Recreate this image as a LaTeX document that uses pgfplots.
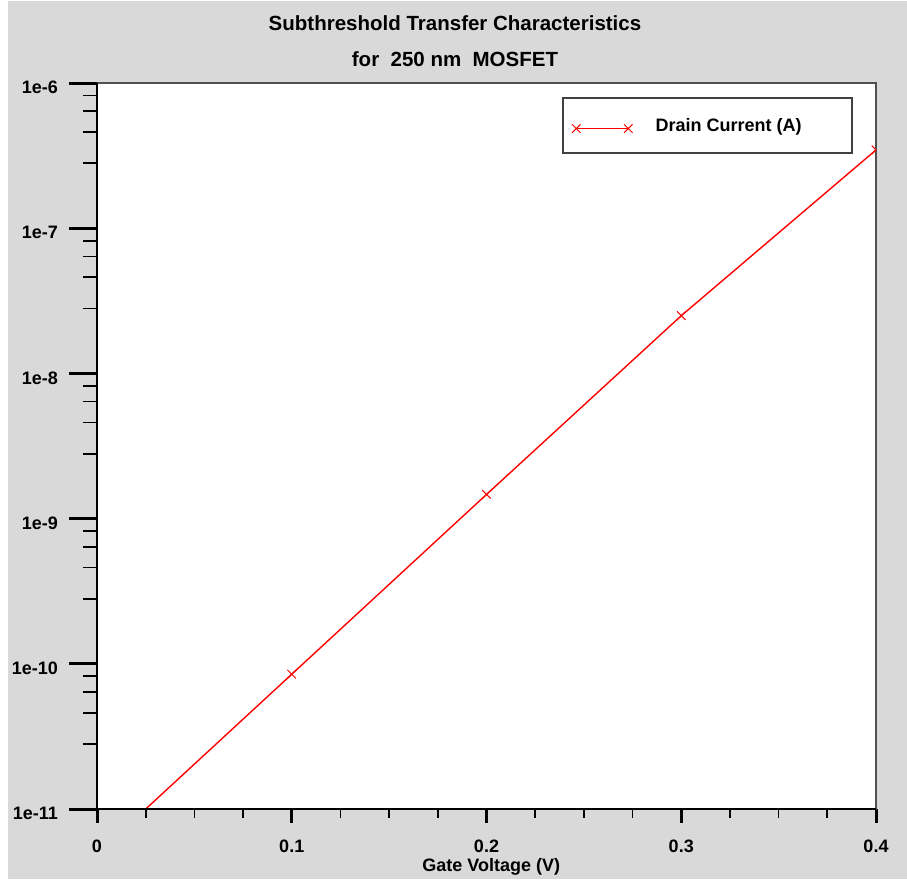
\documentclass[border=0pt]{standalone}
\usepackage{fontspec}
\setmainfont{Liberation Sans}
\usepackage{pgfplots}
\pgfplotsset{compat=1.18}
\definecolor{panel}{HTML}{D9D9D9}
\definecolor{framec}{HTML}{505050}
\definecolor{legbox}{HTML}{404040}
\definecolor{curve}{HTML}{FF0000}

\newcommand{\tickfont}{\fontsize{18}{20}\selectfont\bfseries}

\begin{document}
\begin{tikzpicture}[x=1pt,y=1pt]
\fill[white] (0,0) rectangle (907,880);
\fill[panel] (8,1) rectangle (907,879);
\useasboundingbox (0,0) rectangle (907,880);

% main axis: frame, x ticks, curve, legend
\begin{axis}[at={(97pt,71pt)}, anchor=south west, scale only axis,
  width=779pt, height=726pt,
  ymode=log, xmin=0, xmax=0.4, ymin=1e-11, ymax=1e-6,
  axis background/.style={fill=white},
  axis line style={framec, line width=2pt},
  ytick=\empty, xtick pos=bottom,
  xtick={0,0.1,0.2,0.3,0.4}, xticklabels={0,0.1,0.2,0.3,0.4},
  minor x tick num=3,
  tick align=outside, major tick length=14pt, minor tick length=9pt,
  major x tick style={black, line width=3pt},
  minor x tick style={black, line width=1.7pt},
  xticklabel style={font=\tickfont, anchor=north, inner sep=0pt, yshift=-17pt},
  xlabel={Gate Voltage (V)},
  xlabel style={font=\tickfont, at={(axis description cs:0.506,0)}, anchor=base, yshift=-62.5pt, inner sep=0pt},
  clip marker paths=true,
  legend style={at={(0.597,0.981)}, anchor=north west, draw=legbox, line width=2pt,
    fill=white, inner xsep=9pt, inner ysep=20.5pt, nodes={inner sep=0pt},
    font=\tickfont, /tikz/every odd column/.append style={column sep=23pt}},
  legend image code/.code={\draw[#1, yshift=-3pt] plot coordinates {(0pt,0pt) (52pt,0pt)};},
]
\addplot[curve, line width=1.4pt, mark=x, mark size=6pt, mark options={line width=1pt}]
  coordinates {(0,4.9e-12) (0.1,8.48e-11) (0.2,1.467e-9) (0.3,2.497e-8) (0.4,3.46e-7)};
\addlegendentry{\makebox[187pt][l]{Drain Current (A)}}
\end{axis}

% overlay axis: black left/bottom lines and y ticks
\begin{axis}[at={(97pt,71pt)}, anchor=south west, scale only axis,
  width=779pt, height=726pt,
  ymode=log, xmin=0, xmax=0.4, ymin=1e-11, ymax=1e-6,
  axis x line*=bottom, axis y line*=left,
  axis line style={black, line width=2pt},
  xtick=\empty,
  ytick={1e-11,1e-10,1e-9,1e-8,1e-7,1e-6},
  yticklabels={1e-11,1e-10,1e-9,1e-8,1e-7,1e-6},
  minor ytick={2.8e-11,4.6e-11,6.4e-11,8.2e-11,
    2.8e-10,4.6e-10,6.4e-10,8.2e-10,
    2.8e-9,4.6e-9,6.4e-9,8.2e-9,
    2.8e-8,4.6e-8,6.4e-8,8.2e-8,
    2.8e-7,4.6e-7,6.4e-7,8.2e-7},
  tick align=outside, major tick length=28pt, minor tick length=14pt,
  major y tick style={black, line width=3pt},
  minor y tick style={black, line width=1.7pt},
  yticklabel style={font=\tickfont, anchor=east, inner sep=0pt, xshift=-11pt, yshift=-4.5pt},
]
\end{axis}

\node[anchor=base, font=\fontsize{20.5}{24}\selectfont\bfseries] at (455,849.5)
  {Subthreshold Transfer Characteristics};
\node[anchor=base, font=\fontsize{20.5}{24}\selectfont\bfseries] at (455,813)
  {for\ \ 250 nm\ \ MOSFET};
\end{tikzpicture}
\end{document}
